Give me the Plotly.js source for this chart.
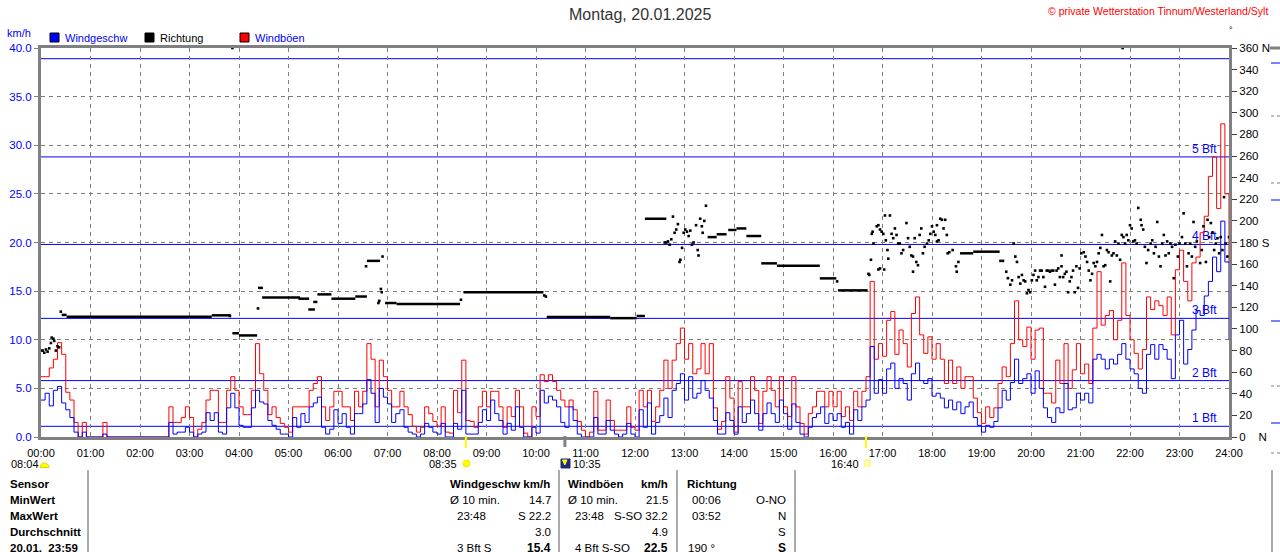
<!DOCTYPE html>
<html><head><meta charset="utf-8">
<script src="https://cdn.plot.ly/plotly-3.0.1.min.js"></script>
<style>html,body{margin:0;padding:0;background:#fff;}#chart{width:1280px;height:552px;}</style>
</head><body><div id="chart"></div>
<script>
// ---------- DATA ----------
const stepMinutes = 5;
const hourLabels = ["00:00","01:00","02:00","03:00","04:00","05:00","06:00","07:00","08:00","09:00","10:00","11:00","12:00","13:00","14:00","15:00","16:00","17:00","18:00","19:00","20:00","21:00","22:00","23:00","24:00"];
const speedTicks = [0,5,10,15,20,25,30,35,40];
const dirTicks = [0,20,40,60,80,100,120,140,160,180,200,220,240,260,280,300,320,340,360];
const dirTickLabels = ["0\u00a0\u00a0\u00a0\u00a0N","20","40","60","80","100","120","140","160","180\u00a0S","200","220","240","260","280","300","320","340","360\u00a0N"];
const bftLevels = [1.1,5.8,12.2,19.8,28.8,38.9];
const bftLabels = ["1 Bft","2 Bft","3 Bft","4 Bft","5 Bft",""];

// wind speed (km/h), 5-minute steps from 00:00 to 24:00
const windSpeed = [
3.8,4.5,3.2,4.8,5.2,3.5,2.8,2.0,0.5,0,0.5,0,
0,0,0,0.3,0,0,0,0,0,0,0,0,
0,0,0,0,0,0,0,1.5,0.3,0.5,0.5,1.0,
0.5,0,0.3,0.5,2.5,1.7,2.5,0.5,0.3,3.0,4.5,3.0,
1.2,1.0,1.0,3.0,4.8,3.6,3.4,1.7,1.2,0.8,0.3,0.3,
0,2.0,1.0,2.4,1.5,3.1,3.5,4.1,1.0,0.3,0.8,2.8,
1.4,2.4,1.0,0.3,2.4,2.4,3.4,5.9,4.5,1.5,5.0,4.1,
3.4,1.5,2.4,2.8,1.0,0.5,0.3,0,0.3,1.4,1.0,0.5,
0.3,1.4,0,0,1.4,0.8,4.8,0.3,0.3,0.3,1.5,2.8,
1.7,3.8,2.4,1.7,0.3,1.4,0.7,3.1,1.0,0,0,1.0,
0.4,4.8,3.5,4.2,3.8,3.1,1.5,1.0,3.1,1.7,0.3,0,
0,0,2.0,0.3,0.3,1.7,0.7,0.3,0,0.3,1.4,0.3,
0,2.8,1.0,3.5,0.3,1.5,2.2,4.0,2.0,4.8,5.5,6.5,
3.8,6.2,4.0,4.5,5.8,4.8,4.0,1.7,0.3,0.3,2.5,1.7,
0.3,3.1,1.5,2.4,3.8,2.4,0.7,2.4,3.5,2.4,1.5,3.8,
2.4,0.8,3.4,1.5,0.3,0,1.0,2.0,2.4,3.1,1.4,2.4,
1.7,2.4,1.0,1.5,0.3,2.8,1.7,3.1,3.8,9.3,4.5,5.9,
4.5,7.0,7.6,5.0,6.0,5.5,3.8,6.5,7.6,5.8,5.5,6.0,
4.2,4.5,4.0,3.0,3.8,2.8,3.6,2.4,3.1,3.6,2.0,1.2,
0.5,1.2,1.0,1.6,3.0,4.8,3.8,5.6,8.0,5.5,6.0,6.5,
4.5,6.8,5.0,3.0,2.0,1.5,3.0,2.5,5.5,2.8,3.0,4.5,
3.8,4.5,3.5,8.0,8.5,8.0,7.0,8.0,7.5,8.5,9.6,8.0,
7.0,6.5,5.0,4.5,8.5,9.5,8.0,9.5,9.0,8.0,6.0,10.5,
12.0,7.5,9.0,11.0,13.0,12.5,14.5,16.0,18.5,17.0,22.2,18.0,
10.0];

// gusts (km/h), same time steps
const windGusts = [
6.2,6.2,7.1,8.0,9.7,8.5,4.6,3.8,1.5,0,1.5,0,
0,0,0,1.5,0,0,0,0,0,0,0,0,
0,0,0,0,0,0,0,3.1,1.5,1.5,2.0,3.1,
2.0,0,0.8,1.5,3.8,4.8,4.8,1.5,1.5,4.8,6.2,4.8,
3.1,2.3,2.3,4.8,9.6,6.5,4.8,2.3,3.1,2.0,1.4,1.0,
0.5,3.1,3.1,3.1,3.1,4.8,5.5,6.2,3.1,1.7,3.1,4.7,
4.7,3.1,3.1,1.7,4.7,3.1,4.7,9.6,8.0,3.1,7.9,6.2,
4.8,3.1,3.1,4.7,3.1,2.3,1.1,0.5,1.0,3.1,2.4,1.6,
1.1,3.1,0.5,0.4,4.8,2.5,7.9,1.7,1.6,1.0,3.1,4.7,
3.1,4.7,4.7,3.1,1.0,3.1,2.1,4.8,3.1,0.4,0,3.1,
2.1,6.4,5.7,6.4,5.7,4.8,3.8,3.1,3.8,2.8,1.6,0.7,
0,0.5,4.7,0.7,0.7,3.8,1.7,0.7,0.7,0.7,3.1,1.0,
0.7,4.8,3.1,4.8,1.6,3.1,4.8,7.9,5.0,7.9,9.6,11.2,
8.0,9.6,6.5,7.0,9.6,6.5,9.6,3.0,0.8,1.6,6.2,4.0,
0.5,5.7,3.1,3.1,6.2,4.8,1.4,4.7,6.2,4.8,3.1,6.2,
3.1,2.1,6.2,3.1,1.4,0.3,2.4,3.1,4.7,4.7,3.1,4.7,
3.1,4.7,2.1,3.1,1.7,4.7,3.1,4.7,6.2,16.0,8.0,9.6,
8.3,12.0,12.9,8.5,11.0,9.6,7.2,12.7,14.4,10.5,8.6,10.3,
8.0,9.6,8.0,5.5,7.9,5.5,7.2,5.0,6.2,6.2,4.0,2.5,
1.4,3.1,2.0,3.0,5.5,7.2,6.2,9.6,14.0,10.0,9.3,11.3,
8.0,11.0,11.2,4.5,4.5,3.5,7.9,5.5,9.6,5.0,6.9,9.6,
6.5,7.5,5.5,11.2,17.0,11.5,12.5,13.0,10.0,12.0,17.9,12.5,
10.0,8.6,7.0,9.0,14.4,13.1,14.0,13.5,12.5,14.4,10.5,17.2,
19.2,16.0,14.0,17.9,18.5,21.0,22.7,26.8,28.8,23.5,32.2,25.0,
17.9];

// wind direction: steady periods (start minute, end minute, degrees)
const dirSegStart = [25,31,207,232,240,263,268,312,324,330,335,352,381,395,417,431,512,613,690,722,732,808,819,833,843,855,873,892,944,966,1114,1130];
const dirSegEnd   = [31,207,230,240,262,269,314,325,332,335,352,381,395,411,431,508,609,690,722,732,758,819,831,843,855,873,892,944,964,1002,1130,1162];
const dirSegDeg   = [113,111.3,112.6,96,94,138,129,128,118,125,132,128,130,163,124,123,134,111,110,112,202,185,187.6,191.6,193,186,160.7,158.5,146.8,135.7,170,171.5];

// wind direction: single readings (minute, degrees)
const dirDotMin = [0,2,4,6,8,10,12,13,15,16,18,20,22,24,
229,232,263,394,409,410,412,413,414,509,610,612,
756,758,760,762,764,766,768,770,772,774,775,777,779,781,783,785,787,789,791,794,796,797,799,801,802,804,806,
965,1003,
1004,1006,1007,1008,1009,1013,1015,1015,1017,1017,1019,1021,1022,1023,1024,1026,1027,1029,1031,1033,1035,1037,1039,1041,1043,1045,1049,1051,1053,1055,1057,1057,1059,1061,1063,1065,1067,1069,1071,1074,1076,1078,1080,1082,1084,1086,1086,1088,1090,1092,1094,1096,1098,
1099,1101,1105,1109,1110,1112,1163,1166,
1170,1172,1175,1177,1179,1181,1183,1185,1187,1189,1191,1193,1195,1197,1199,1201,1203,1205,1207,1209,1211,
1213,1215,1217,1219,1221,1223,1225,1227,1229,1231,1233,1235,1237,1237,1239,1241,1243,1245,1247,1249,1251,1253,1255,1257,1259,1261,
1264,1266,1268,1270,1272,1274,1276,1278,1280,1282,1284,1286,1288,1290,1292,1294,1296,1298,1300,1302,1304,1306,1308,1310,1311,1312,1314,1316,1318,1320,
1322,1324,1326,1328,1330,1333,1334,1336,1338,1340,1342,1345,1347,1349,1351,1353,1355,1357,1359,1361,1363,1365,1367,1369,1371,1373,1375,1378,1380,
1383,1385,1387,1389,1391,1393,1395,1397,1399,1401,1405,1407,1409,1412,1414,1416,1418,1420,1422,1424,1426,1428,1430,1432,1434,1436,1438,1440];
const dirDotDeg = [80,80,78,81,79,82,87,92,91,89,80,84,83,116,
112,360,119,158,124,126,137,134,167,127,131,130,
180,180,181,178,183,204,189,192,197,162,164,175,189,192,190,186,191,178,180,196,173,168,202,195,189,200,214,
144,151,
150,164,188,190,179,195,196,155,192,156,190,188,155,205,182,173,165,205,188,184,193,187,179,179,170,173,198,184,176,168,167,153,184,162,159,187,193,170,176,179,182,188,195,190,187,196,181,182,202,201,193,201,187,
170,171,173,158,153,162,163,163,
153,147,141,145,179,167,162,148,142,150,145,144,133,136,134,145,150,154,145,148,154,
154,148,139,154,154,153,154,154,141,154,156,148,158,168,148,151,153,134,144,148,154,134,158,138,156,170,
171,167,162,154,145,151,161,158,162,170,175,187,158,159,173,171,144,168,170,181,168,179,164,187,360,185,179,187,182,196,
193,181,182,179,212,201,196,192,176,161,173,179,182,170,176,199,167,158,179,187,168,181,170,179,176,147,178,167,179,
185,207,179,158,170,179,167,199,176,181,161,173,195,162,201,185,198,189,173,179,184,170,185,173,222,179,167,185];

// ---------- HELPERS ----------
const L = 41, R = 1229, T = 48, B = 437;
const xp = p => (p - L) / (R - L);
const yp = p => (B - p) / (B - T);
const FONT = "Liberation Sans, Arial, sans-serif";
const times = windSpeed.map((_, i) => i * stepMinutes);

const annotations = [];
function txt(text, x, y, anchor, size, color, extra) {
  annotations.push(Object.assign({
    text: text, xref: "paper", yref: "paper", x: xp(x), y: yp(y),
    xanchor: anchor, yanchor: "middle", showarrow: false,
    font: {family: FONT, size: size, color: color}
  }, extra || {}));
}
const shapes = [];
function pline(x0, y0, x1, y1, color, width, dash) {
  shapes.push({type: "line", xref: "paper", yref: "paper", x0: xp(x0), x1: xp(x1), y0: yp(y0), y1: yp(y1),
    line: {color: color, width: width, dash: dash || "solid"}});
}
function prect(x0, y0, x1, y1, fill, lineColor, lw) {
  shapes.push({type: "rect", xref: "paper", yref: "paper", x0: xp(x0), x1: xp(x1), y0: yp(y1), y1: yp(y0),
    fillcolor: fill, line: {color: lineColor, width: lw}});
}

// Beaufort lines + labels (below traces)
bftLevels.forEach((v, i) => {
  shapes.push({type: "line", xref: "x", yref: "y", x0: 0, x1: 1440, y0: v, y1: v, layer: "below",
    line: {color: "#0000ff", width: 1}});
  if (bftLabels[i]) {
    shapes.push({type: "line", xref: "x", yref: "y", x0: 0, x1: 1425, y0: v, y1: v, layer: "below",
      line: {color: "rgba(0,0,0,0)", width: 1},
      label: {text: bftLabels[i], textposition: "end", xanchor: "right", yanchor: "bottom", padding: 2,
        font: {family: FONT, size: 12, color: "#0000ff"}}});
  }
});

// title etc.
txt("Montag, 20.01.2025", 640, 15, "center", 16, "#333333");
txt("© private Wetterstation Tinnum/Westerland/Sylt", 1270, 11, "right", 10.5, "#ff0000");
txt("km/h", 5, 33, "left", 11, "#0000ff");
txt("°", 1231, 30, "center", 9, "#000");
// legend
prect(50, 33, 59, 42, "#0000ff", "#000", 1);
txt("Windgeschw", 63, 38, "left", 11, "#0000ff");
prect(145, 33, 154, 42, "#000000", "#000", 1);
txt("Richtung", 158, 38, "left", 11, "#000000");
prect(240, 33, 249, 42, "#ff0000", "#000", 1);
txt("Windböen", 253, 38, "left", 11, "#0000ff");

// sun / moon markers under the time axis
shapes.push({type: "line", xref: "x", yref: "paper", x0: 515, x1: 515, y0: yp(436), y1: yp(448), line: {color: "#ffff00", width: 2}});
shapes.push({type: "line", xref: "x", yref: "paper", x0: 1000, x1: 1000, y0: yp(436), y1: yp(448), line: {color: "#ffff00", width: 2}});
shapes.push({type: "line", xref: "x", yref: "paper", x0: 635, x1: 635, y0: yp(436), y1: yp(447), line: {color: "#808080", width: 3}});
txt("08:04", 9, 464, "left", 11, "#000");
(function(){ let cx = 44.5, cy = 467.5, r = 4.5, d = "M " + xp(cx - r) + "," + yp(cy);
  for (let a = 180; a >= 0; a -= 20) { const rad = a * Math.PI / 180; d += " L " + xp(cx + r * Math.cos(rad)) + "," + yp(cy - r * Math.sin(rad)); }
  shapes.push({type: "path", xref: "paper", yref: "paper", path: d + " Z", fillcolor: "#ffff00", line: {color: "#e8d000", width: 1}}); })();
txt("08:35", 459, 464, "right", 11, "#000");
shapes.push({type: "circle", xref: "paper", yref: "paper", x0: xp(463), x1: xp(470), y0: yp(467), y1: yp(460), fillcolor: "#ffff00", line: {color: "#ffe000", width: 1}});
prect(561, 459, 570, 468, "#1c2c7c", "#1c2c7c", 1);
shapes.push({type: "path", xref: "paper", yref: "paper", path: "M " + xp(562.5) + "," + yp(460) + " L " + xp(567) + "," + yp(460) + " L " + xp(564.8) + "," + yp(465) + " Z", fillcolor: "#ffff00", line: {color: "#ffff00", width: 1}});
txt("10:35", 571, 464, "left", 11, "#000");
txt("16:40", 861, 464, "right", 11, "#000");
prect(865, 460, 870, 466, "#ffffff", "#ffff00", 1);

// table
const rowsY = [484, 500, 516, 532, 548];
["Sensor", "MinWert", "MaxWert", "Durchschnitt", "20.01.  23:59"].forEach((s, i) => txt("<b>" + s + "</b>", 8, rowsY[i], "left", 11.5, "#000"));
[88, 559, 677, 795].forEach(x => pline(x, 470, x, 552, "#909090", 1.5));
txt("<b>Windgeschw km/h</b>", 448, rowsY[0], "left", 11.5, "#000");
txt("Ø 10 min.", 448, rowsY[1], "left", 11.5, "#000");  txt("14.7", 553, rowsY[1], "right", 11.5, "#000");
txt("23:48", 455, rowsY[2], "left", 11.5, "#000");      txt("S 22.2", 553, rowsY[2], "right", 11.5, "#000");
txt("3.0", 553, rowsY[3], "right", 11.5, "#000");
txt("3 Bft S", 455, rowsY[4], "left", 11.5, "#000");    txt("<b>15.4</b>", 553, rowsY[4], "right", 12, "#000");
txt("<b>Windböen</b>", 566, rowsY[0], "left", 11.5, "#000"); txt("<b>km/h</b>", 670, rowsY[0], "right", 11.5, "#000");
txt("Ø 10 min.", 566, rowsY[1], "left", 11.5, "#000");  txt("21.5", 670, rowsY[1], "right", 11.5, "#000");
txt("23:48", 573, rowsY[2], "left", 11.5, "#000");      txt("S-SO 32.2", 670, rowsY[2], "right", 11.5, "#000");
txt("4.9", 670, rowsY[3], "right", 11.5, "#000");
txt("4 Bft S-SO", 573, rowsY[4], "left", 11.5, "#000"); txt("<b>22.5</b>", 670, rowsY[4], "right", 12, "#000");
txt("<b>Richtung</b>", 685, rowsY[0], "left", 11.5, "#000");
txt("00:06", 690, rowsY[1], "left", 11.5, "#000");      txt("O-NO", 788, rowsY[1], "right", 11.5, "#000");
txt("03:52", 690, rowsY[2], "left", 11.5, "#000");      txt("N", 788, rowsY[2], "right", 11.5, "#000");
txt("S", 788, rowsY[3], "right", 11.5, "#000");
txt("190 °", 686, rowsY[4], "left", 11.5, "#000");      txt("<b>S</b>", 788, rowsY[4], "right", 12, "#000");

// clipped neighbouring chart at the right edge
pline(1270, 48, 1280, 48, "#808080", 3);
pline(1271, 63, 1280, 63, "#0000ff", 1);
pline(1271, 116, 1280, 116, "#808080", 1, "3px,3px");
pline(1271, 183, 1280, 183, "#808080", 1, "3px,3px");
pline(1271, 200, 1280, 200, "#0000ff", 1);
pline(1271, 321, 1280, 321, "#0000ff", 1);
pline(1271, 386, 1280, 386, "#808080", 1, "3px,3px");
pline(1271, 423, 1280, 423, "#0000ff", 1);
pline(1271, 453, 1280, 453, "#808080", 1, "3px,3px");
pline(1272, 470, 1272, 552, "#909090", 1.5);

// direction segments as line trace
const segX = [], segY = [];
dirSegStart.forEach((s, i) => { segX.push(s, dirSegEnd[i], null); segY.push(dirSegDeg[i], dirSegDeg[i], null); });

const traces = [
  {x: times, y: windGusts, type: "scatter", mode: "lines", line: {color: "#ff0000", width: 1, shape: "hv"}, hoverinfo: "skip"},
  {x: times, y: windSpeed, type: "scatter", mode: "lines", line: {color: "#0000ff", width: 1, shape: "hv"}, hoverinfo: "skip"},
  {x: segX, y: segY, yaxis: "y2", type: "scatter", mode: "lines", line: {color: "#000", width: 2.5}, hoverinfo: "skip"},
  {x: dirDotMin, y: dirDotDeg, yaxis: "y2", type: "scatter", mode: "markers", marker: {symbol: "square", size: 2.6, color: "#000", line: {width: 0}}, hoverinfo: "skip"}
];

const layout = {
  width: 1280, height: 552,
  margin: {l: L, r: 1280 - R, t: T, b: 552 - B, pad: 0},
  paper_bgcolor: "#fff", plot_bgcolor: "#fff",
  showlegend: false, hovermode: false,
  font: {family: FONT, size: 11, color: "#000"},
  xaxis: {range: [0, 1440], tickvals: hourLabels.map((_, i) => i * 60), ticktext: hourLabels,
    showgrid: true, gridcolor: "#808080", griddash: "4px,4px", gridwidth: 1,
    showline: true, linecolor: "#808080", linewidth: 3, mirror: true,
    ticks: "outside", ticklen: 4, tickcolor: "rgba(0,0,0,0)",
    tickfont: {family: FONT, size: 11, color: "#000"}, zeroline: false, fixedrange: true},
  yaxis: {range: [0, 40], tickvals: speedTicks, ticktext: speedTicks.map(v => v.toFixed(1)),
    showgrid: true, gridcolor: "#808080", griddash: "4px,4px", gridwidth: 1,
    showline: true, linecolor: "#808080", linewidth: 3, mirror: true,
    ticks: "outside", ticklen: 4, tickcolor: "#808080",
    tickfont: {family: FONT, size: 11.5, color: "#0000ff"}, zeroline: false, fixedrange: true},
  yaxis2: {overlaying: "y", side: "right", range: [0, 360], tickvals: dirTicks, ticktext: dirTickLabels,
    showgrid: false, showline: true, linecolor: "#808080", linewidth: 3,
    ticks: "outside", ticklen: 5, tickcolor: "#404040",
    tickfont: {family: FONT, size: 11.5, color: "#000"}, zeroline: false, fixedrange: true},
  shapes: shapes,
  annotations: annotations
};

Plotly.newPlot("chart", traces, layout, {displayModeBar: false, staticPlot: true});
</script>
</body></html>
